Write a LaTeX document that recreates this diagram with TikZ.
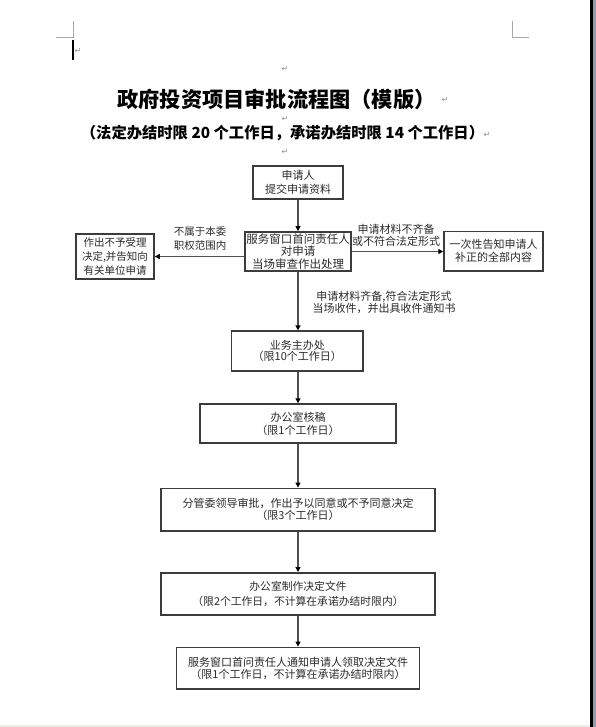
\documentclass[tikz,border=0pt]{standalone}
\usepackage{fontspec}
\setmainfont{Noto Sans CJK SC}
\newfontfamily\symfont{DejaVu Sans}
\usetikzlibrary{arrows.meta,positioning}
\definecolor{ink}{HTML}{2B2B2B}
\definecolor{frame}{HTML}{3C3C3C}
\definecolor{wire}{HTML}{505050}
\definecolor{mark}{HTML}{8C8C8C}
\definecolor{crop}{HTML}{A8A8A8}
\definecolor{edgebar}{HTML}{9299B2}
\definecolor{stripbg}{HTML}{EDEDE8}
\tikzset{
  stepbox/.style={draw=frame,line width=1.5pt,fill=white,inner sep=0pt,
                  align=center,text=ink,font=\fontsize{11}{12.5}\selectfont},
  flow/.style={-{Triangle[length=5pt,width=5pt,color=black]},draw=wire,
               line width=1.3pt},
  note/.style={align=center,text=ink,inner sep=0pt,
               font=\fontsize{11}{12.5}\selectfont},
  retmark/.style={text=mark,inner sep=0pt,font=\symfont\fontsize{8}{8}\selectfont},
}

\begin{document}
\begin{tikzpicture}[x=1pt,y=-1pt]
  \useasboundingbox (0,0) rectangle (596,727);
  % page frame of the editor
  \fill[stripbg] (0,725) rectangle (590,727);
  \fill[black] (590,0) rectangle (593,727);
  \fill[edgebar] (593,0) rectangle (596,727);
  \draw[crop,line width=1pt] (73,21)--(73,38)--(56,38);
  \draw[crop,line width=1pt] (512,21)--(512,38)--(529,38);
  \fill[black] (72.3,40) rectangle (74.3,60);
  \node[retmark] (r0) at (78,51) {↵};
  \node[retmark] (r1) at (285,69) {↵};
  \node[retmark] (r2) at (445,100) {↵};
  \node[retmark] (r3) at (285,119) {↵};
  \node[retmark] (r4) at (487,135) {↵};
  \node[retmark] (r5) at (285,152) {↵};
  % headings
  \node[inner sep=0pt,font=\fontsize{21.2}{22}\selectfont\bfseries]
    (title) at (276.5,99) {政府投资项目审批流程图（模版）};
  \node[inner sep=0pt,font=\fontsize{15.3}{16}\selectfont\bfseries]
    (subtitle) at (282.5,133) {（法定办结时限 20 个工作日，承诺办结时限 14 个工作日）};
  % steps
  \node[stepbox,minimum width=90pt,minimum height=33pt,
        font=\fontsize{11}{14}\selectfont] (apply) at (298,182.5)
    {申请人\\提交申请资料};
  \node[stepbox,minimum width=105.7pt,minimum height=39.3pt,
        font=\fontsize{11.5}{12.5}\selectfont] (window) at (298,251.5)
    {服务窗口首问责任人\\对申请\\当场审查作出处理};
  \node[stepbox,minimum width=78pt,minimum height=45pt,
        font=\fontsize{10.5}{14}\selectfont] (reject) at (115,256.5)
    {作出不予受理\\决定,并告知向\\有关单位申请};
  \node[stepbox,minimum width=99pt,minimum height=39.3pt,
        font=\fontsize{11}{13}\selectfont] (notify) at (493.5,251.3)
    {一次性告知申请人\\补正的全部内容};
  \node[stepbox,minimum width=131.3pt,minimum height=39.7pt,
        font=\fontsize{11}{11.5}\selectfont] (dept) at (297.3,351)
    {业务主办处\\（限10个工作日）};
  \node[stepbox,minimum width=196pt,minimum height=39pt,
        font=\fontsize{11}{13.3}\selectfont] (review) at (298,423.5)
    {办公室核稿\\（限1个工作日）};
  \node[stepbox,minimum width=274pt,minimum height=42.7pt,
        font=\fontsize{11}{11.7}\selectfont] (approve) at (298,509.7)
    {分管委领导审批，作出予以同意或不予同意决定\\（限3个工作日）};
  \node[stepbox,minimum width=274.3pt,minimum height=42.3pt,
        font=\fontsize{10.8}{15}\selectfont] (draft) at (298,593.9)
    {办公室制作决定文件\\（限2个工作日，不计算在承诺办结时限内）};
  \node[stepbox,minimum width=242.6pt,minimum height=41.7pt,
        font=\fontsize{11}{11.6}\selectfont] (collect) at (298,668.2)
    {服务窗口首问责任人通知申请人领取决定文件\\（限1个工作日，不计算在承诺办结时限内）};
  % connector labels
  \node[note,font=\fontsize{10.5}{14}\selectfont] (outscope) at (200,239)
    {不属于本委\\职权范围内};
  \node[note,font=\fontsize{11}{12.7}\selectfont] (missing) at (396,235.4)
    {申请材料不齐备\\或不符合法定形式};
  \node[note,font=\fontsize{11}{12}\selectfont] (complete) at (384,302)
    {申请材料齐备,符合法定形式\\当场收件，并出具收件通知书};
  % connectors
  \draw[flow] (apply.south) -- (apply.south |- window.north);
  \draw[flow] (window.west |- reject.east) -- (reject.east);
  \draw[flow] (window.east) -- (window.east -| notify.west);
  \draw[flow] (window.south) -- (window.south |- dept.north);
  \draw[flow] (dept.south -| window.south) -- (window.south |- review.north);
  \draw[flow] (review.south) -- (approve.north);
  \draw[flow] (approve.south) -- (draft.north);
  \draw[flow] (draft.south) -- (collect.north);
\end{tikzpicture}
\end{document}
